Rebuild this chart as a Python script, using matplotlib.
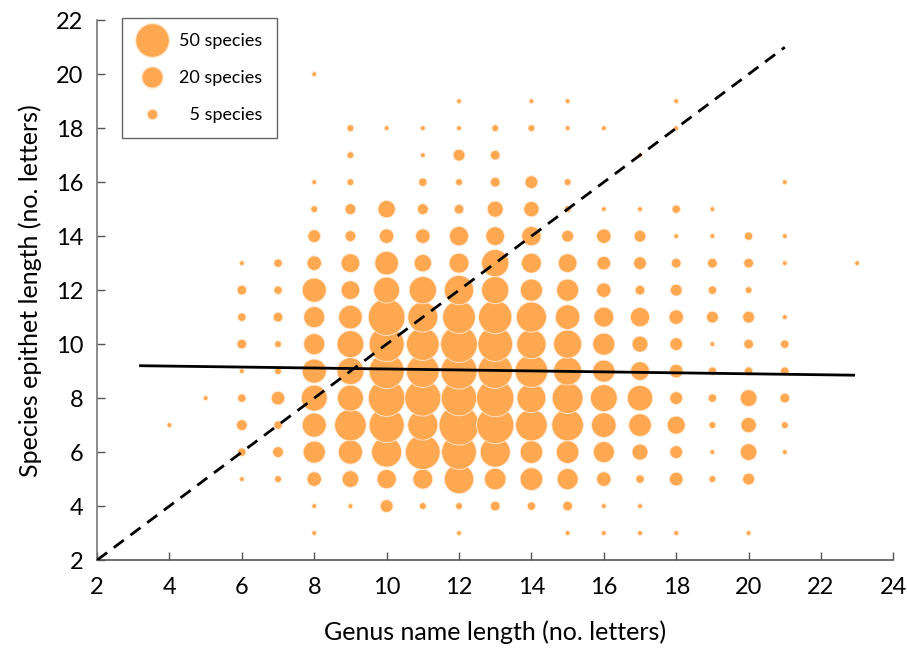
import matplotlib
matplotlib.use("Agg")
import matplotlib.pyplot as plt
from matplotlib.lines import Line2D
import numpy as np

plt.rcParams['font.family'] = ['Lato', 'DejaVu Sans']

# epithet lengths 3..20, one row of species counts per genus length
epithet_len = list(range(3, 21))
genus_len = [4, 5, 6, 7, 8, 9, 10, 11, 12, 13, 14, 15, 16, 17, 18, 19, 20, 21, 23]
counts = [
    [0, 0, 0, 0, 1, 0, 0, 0, 0, 0, 0, 0, 0, 0, 0, 0, 0, 0],        # 4
    [0, 0, 0, 0, 0, 1, 0, 0, 0, 0, 0, 0, 0, 0, 0, 0, 0, 0],        # 5
    [0, 0, 1, 3, 5, 3, 1, 4, 3, 4, 1, 0, 0, 0, 0, 0, 0, 0],        # 6
    [0, 0, 2, 5, 3, 8, 2, 2, 4, 3, 3, 0, 0, 0, 0, 0, 0, 0],        # 7
    [1, 1, 9, 21, 25, 29, 25, 19, 19, 25, 9, 7, 2, 1, 0, 0, 0, 1],  # 8
    [0, 1, 12, 25, 43, 29, 31, 31, 24, 15, 15, 5, 5, 2, 2, 2, 0, 0],  # 9
    [0, 7, 16, 39, 53, 58, 53, 53, 58, 29, 24, 9, 13, 0, 0, 1, 0, 0],  # 10
    [0, 2, 17, 52, 39, 56, 46, 46, 39, 32, 13, 9, 5, 3, 1, 1, 0, 0],  # 11
    [1, 2, 37, 52, 69, 54, 56, 58, 46, 37, 17, 16, 4, 2, 6, 1, 1, 0],  # 12
    [0, 4, 20, 39, 60, 60, 52, 52, 48, 32, 32, 15, 11, 4, 4, 2, 0, 0],  # 13
    [0, 3, 22, 22, 43, 36, 46, 37, 39, 21, 17, 16, 10, 7, 0, 2, 1, 0],  # 14
    [1, 4, 19, 22, 43, 41, 34, 34, 26, 21, 15, 6, 2, 2, 0, 1, 1, 0],  # 15
    [1, 1, 9, 19, 26, 31, 21, 21, 17, 9, 8, 9, 1, 0, 0, 1, 0, 0],   # 16
    [1, 1, 3, 11, 22, 28, 15, 11, 16, 4, 7, 6, 1, 0, 1, 0, 0, 0],   # 17
    [1, 0, 8, 7, 14, 7, 8, 7, 9, 6, 4, 1, 3, 0, 0, 1, 1, 0],        # 18
    [0, 0, 2, 1, 2, 3, 3, 1, 6, 3, 4, 1, 1, 0, 0, 0, 0, 0],         # 19
    [1, 0, 6, 12, 10, 12, 3, 4, 6, 2, 4, 3, 0, 0, 0, 0, 0, 0],      # 20
    [0, 0, 0, 1, 2, 4, 3, 3, 1, 0, 1, 1, 0, 1, 0, 0, 0, 0],         # 21
    [0, 0, 0, 0, 0, 0, 0, 0, 0, 0, 1, 0, 0, 0, 0, 0, 0, 0],         # 23
]

# regression line (epithet vs genus length) and 1:1 line
reg_x = [3.2, 22.9]
reg_slope, reg_icept = -0.0178, 9.257
one_to_one = [2, 21]

legend_counts = [50, 20, 5]
size_per_species = 12.0
bubble_col = '#FFA852'

gx, ey, nn = [], [], []
for g, row in zip(genus_len, counts):
    for e, n in zip(epithet_len, row):
        if n > 0:
            gx.append(g)
            ey.append(e)
            nn.append(n)
nn = np.array(nn)

fig = plt.figure(figsize=(9.07, 6.52), dpi=100)
ax = fig.add_axes([0.107, 0.141, 0.878, 0.828])

ax.scatter(gx, ey, s=nn * size_per_species, color=bubble_col,
           edgecolors='#FFEBD6', linewidths=0.6, zorder=2)

rx = np.array(reg_x)
ax.plot(rx, reg_icept + reg_slope * rx, color='black', lw=2, zorder=3)
ax.plot(one_to_one, one_to_one, color='black', lw=2, ls=(0, (4.5, 3)), zorder=3)

ax.set_xlim(2, 24)
ax.set_ylim(2, 22)
ax.set_xticks(range(2, 25, 2))
ax.set_yticks(range(2, 23, 2))
ax.tick_params(direction='in', length=6, width=1, labelsize=17, color='#555555')
ax.tick_params(axis='x', pad=12)
ax.tick_params(axis='y', pad=10)
for s in ['top', 'right']:
    ax.spines[s].set_visible(False)
ax.spines['left'].set_color('#777777')
ax.spines['bottom'].set_color('#555555')
ax.spines['left'].set_linewidth(1.2)
ax.spines['bottom'].set_linewidth(1.2)

ax.set_xlabel('Genus name length (no. letters)', fontsize=18, labelpad=16)
ax.set_ylabel('Species epithet length (no. letters)', fontsize=18, labelpad=10)

handles = [Line2D([], [], ls='none', marker='o', color=bubble_col,
                  markeredgecolor='#FFEBD6', markersize=np.sqrt(c * size_per_species))
           for c in legend_counts]
labels = ['50 species', '20 species', '\u20075 species']
leg = ax.legend(handles, labels, loc='upper left', bbox_to_anchor=(0.031, 1.004),
                borderaxespad=0, fancybox=False, edgecolor='#404040', fontsize=13,
                labelspacing=1.15, handletextpad=0.7, borderpad=0.85,
                handlelength=1.6)
leg.get_frame().set_linewidth(1.0)

fig.savefig('out.png', dpi=100)
